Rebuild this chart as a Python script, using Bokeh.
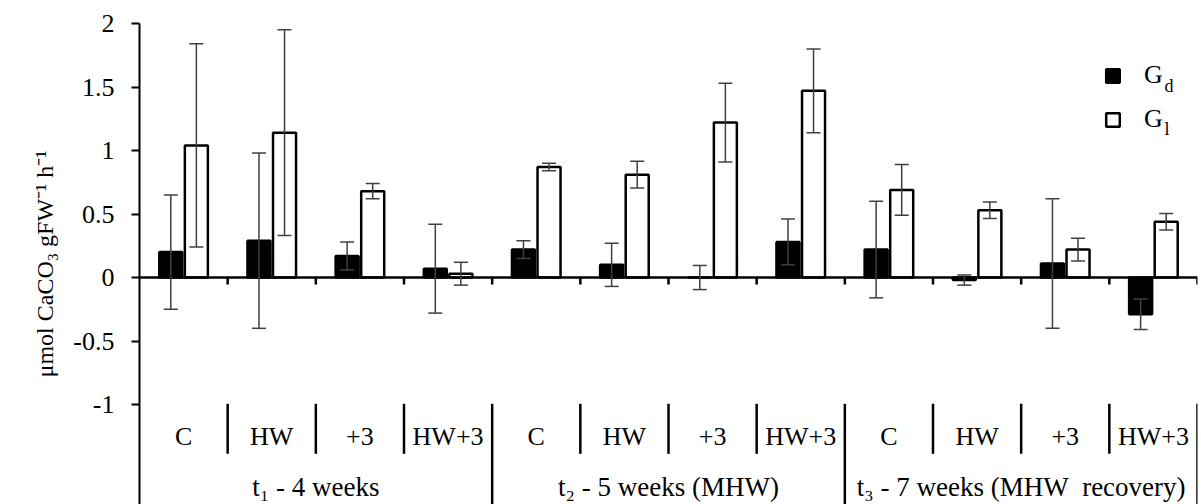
from bokeh.plotting import figure
from bokeh.models import (ColumnDataSource, FactorRange, Range1d, FixedTicker, Whisker, TeeHead,
                          Span, Label, Legend, LegendItem, NumeralTickFormatter, Title)
from bokeh.transform import dodge
from bokeh.core.properties import value
from bokeh.embed import file_html
from bokeh.resources import INLINE

# ---------------- data ----------------
groups = ["t₁ - 4 weeks", "t₂ - 5 weeks (MHW)", "t₃ - 7 weeks (MHW\u00a0 recovery)"]
treatments = ["C", "HW", "+3", "HW+3"]
gd = [0.20, 0.29, 0.17, 0.07, 0.22, 0.10, 0.00, 0.28, 0.22, -0.02, 0.11, -0.29]
gd_err = [0.45, 0.69, 0.11, 0.35, 0.07, 0.17, 0.095, 0.18, 0.38, 0.04, 0.51, 0.12]
gl = [1.04, 1.14, 0.68, 0.03, 0.87, 0.81, 1.22, 1.47, 0.69, 0.53, 0.22, 0.44]
gl_err = [0.80, 0.81, 0.06, 0.09, 0.03, 0.105, 0.31, 0.33, 0.20, 0.065, 0.09, 0.065]
y_ticks = [-1, -0.5, 0, 0.5, 1, 1.5, 2]
y_label = "μmol CaCO₃ gFW⁻¹ h⁻¹"
series_names = ["G", "G"]
series_subs = ["d", "l"]

# ---------------- style constants ----------------
FONT = "Liberation Serif"
Y_TOP = 2
Y_BOTTOM = -1.787
BAR_OFF = 0.145
BAR_W = 0.261
TICK_LEN = 0.055
SEP_TOP = -0.994
SEP_INNER_BOTTOM = -1.388
INNER_LABEL_Y = -1.252
OUTER_LABEL_Y = -1.646

factors = [(g, t) for g in groups for t in treatments]
conds = [t for g in groups for t in treatments]
sep_bottom = [Y_BOTTOM if t == treatments[-1] else SEP_INNER_BOTTOM for g in groups for t in treatments]

src = ColumnDataSource(dict(
    x=factors, cond=conds, gd=gd, gl=gl,
    gd_hi=[v + e for v, e in zip(gd, gd_err)], gd_lo=[v - e for v, e in zip(gd, gd_err)],
    gl_hi=[v + e for v, e in zip(gl, gl_err)], gl_lo=[v - e for v, e in zip(gl, gl_err)],
    sep_bottom=sep_bottom,
))
gsrc = ColumnDataSource(dict(x=groups, text=groups))

x_range = FactorRange(factors=factors, factor_padding=0, group_padding=0,
                      subgroup_padding=0, range_padding=0)
p = figure(x_range=x_range, y_range=Range1d(Y_BOTTOM, Y_TOP), width=1201, height=504,
           output_backend="svg", toolbar_location=None,
           min_border_left=139, min_border_right=4, min_border_top=23, min_border_bottom=0)
p.outline_line_color = None
p.xgrid.visible = False
p.ygrid.visible = False
p.xaxis.visible = False
p.background_fill_color = "white"
p.border_fill_color = "white"

# y axis
ax = p.yaxis[0]
ax.ticker = FixedTicker(ticks=y_ticks)
ax.formatter = NumeralTickFormatter(format="0.[0]")
ax.major_tick_out = 8
ax.major_tick_in = 0
ax.minor_tick_out = 0
ax.minor_tick_in = 0
ax.axis_line_width = 2
ax.axis_line_color = "black"
ax.major_tick_line_width = 2
ax.major_tick_line_color = "black"
ax.major_label_text_font = FONT
ax.major_label_text_font_size = "26px"
ax.major_label_text_color = "black"
ax.major_label_standoff = 17

# y axis title
p.add_layout(Title(text=y_label, align="center", offset=56, standoff=25, text_font=FONT,
                   text_font_size="24px", text_font_style="normal", text_color="black"), "left")

# bars
r_gd = p.vbar(x=dodge("x", -BAR_OFF, range=x_range), top="gd", bottom=0, width=BAR_W, source=src,
              fill_color="black", line_color="black", line_width=2.5)
r_gl = p.vbar(x=dodge("x", BAR_OFF, range=x_range), top="gl", bottom=0, width=BAR_W, source=src,
              fill_color="white", line_color="black", line_width=2.5)

# zero line and ticks
p.add_layout(Span(location=0, dimension="width", line_color="black", line_width=2.5))
p.segment(x0=dodge("x", 0.5, range=x_range), y0=0, x1=dodge("x", 0.5, range=x_range), y1=-TICK_LEN,
          source=src, line_color="black", line_width=2.5)

# error bars
for col, off in (("gd", -BAR_OFF), ("gl", BAR_OFF)):
    w = Whisker(base=dodge("x", off, range=x_range), upper=col + "_hi", lower=col + "_lo", source=src,
                line_color="#404040", line_width=1.5, level="overlay",
                upper_head=TeeHead(size=14, line_color="#404040", line_width=1.5),
                lower_head=TeeHead(size=14, line_color="#404040", line_width=1.5))
    p.add_layout(w)

# category separators
p.segment(x0=dodge("x", 0.5, range=x_range), y0=SEP_TOP, x1=dodge("x", 0.5, range=x_range), y1="sep_bottom",
          source=src, line_color="black", line_width=2.5)

# category labels
p.text(x="x", y=INNER_LABEL_Y, text="cond", source=src, text_align="center", text_baseline="middle",
       text_font=value(FONT), text_font_size="26px", text_color="black")
p.text(x="x", y=OUTER_LABEL_Y, text="text", source=gsrc, text_align="center", text_baseline="middle",
       text_font=value(FONT), text_font_size="27px", text_color="black")

# legend
legend = Legend(items=[LegendItem(label=series_names[0], renderers=[r_gd]),
                       LegendItem(label=series_names[1], renderers=[r_gl])],
                location=(965, 370), orientation="vertical", padding=0, margin=0, spacing=14,
                glyph_width=17, glyph_height=17, label_standoff=23,
                label_text_font=FONT, label_text_font_size="26px", label_text_color="black",
                border_line_color=None, background_fill_alpha=0)
p.add_layout(legend)
for sub, yy in zip(series_subs, (419, 376)):
    p.add_layout(Label(x=1025, y=yy, x_units="screen", y_units="screen", text=sub,
                       text_align="left", text_baseline="alphabetic", text_font=FONT,
                       text_font_size="18px", text_color="black"))

open("out.html", "w").write(file_html(p, INLINE))
